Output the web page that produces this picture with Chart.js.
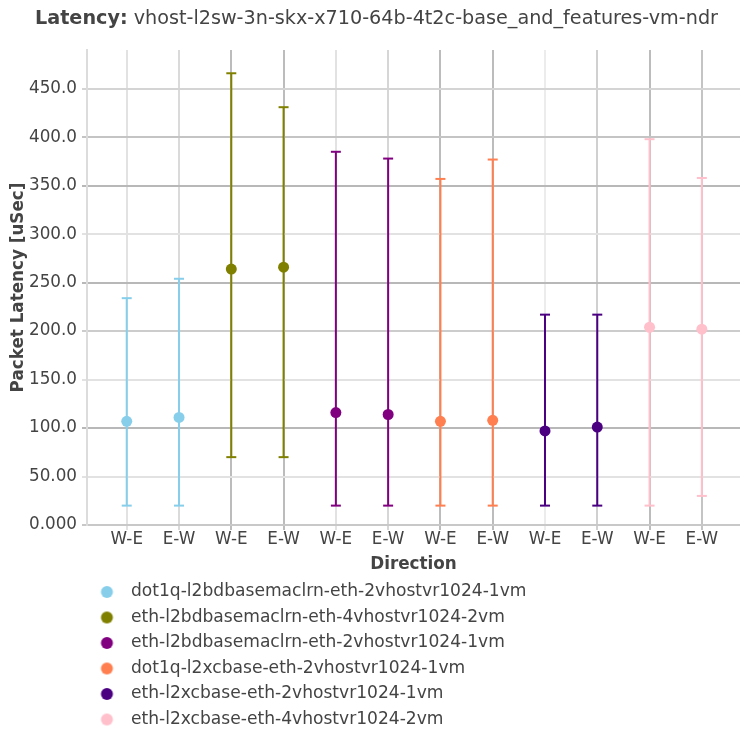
<!DOCTYPE html>
<html><head><meta charset="utf-8">
<script src="https://cdn.jsdelivr.net/npm/chart.js@4/dist/chart.umd.min.js"></script>
<style>
html,body{margin:0;padding:0;background:#fff;}
#wrap{position:relative;width:741px;height:729px;overflow:hidden;}
#title{position:absolute;left:0;top:6px;width:753px;text-align:center;font-family:"DejaVu Sans",sans-serif;font-size:19.2px;line-height:24px;color:#444;white-space:nowrap;}
canvas{position:absolute;left:0;top:0;}
</style></head>
<body><div id="wrap"><canvas id="c" width="741" height="729"></canvas><div id="title"><b>Latency:</b> vhost-l2sw-3n-skx-x710-64b-4t2c-base_and_features-vm-ndr</div></div>
<script>
const categories = ['W-E','E-W','W-E','E-W','W-E','E-W','W-E','E-W','W-E','E-W','W-E','E-W'];
const seriesNames = [
  'dot1q-l2bdbasemaclrn-eth-2vhostvr1024-1vm',
  'eth-l2bdbasemaclrn-eth-4vhostvr1024-2vm',
  'eth-l2bdbasemaclrn-eth-2vhostvr1024-1vm',
  'dot1q-l2xcbase-eth-2vhostvr1024-1vm',
  'eth-l2xcbase-eth-2vhostvr1024-1vm',
  'eth-l2xcbase-eth-4vhostvr1024-2vm'
];
const seriesColors = ['#87ceeb','#808000','#800080','#ff7f50','#4b0082','#ffc0cb'];
const avgWE = [107, 264, 116, 107, 97, 204];
const avgEW = [111, 266, 114, 108, 101, 202];
const maxWE = [234, 466, 385, 357, 217, 398];
const maxEW = [254, 431, 378, 377, 217, 358];
const minWE = [20, 70, 20, 20, 20, 20];
const minEW = [20, 70, 20, 20, 20, 30];
const yTickValues = [0, 50, 100, 150, 200, 250, 300, 350, 400, 450];
const yTickLabels = ['0.000','50.00','100.0','150.0','200.0','250.0','300.0','350.0','400.0','450.0'];

const FONT = '"DejaVu Sans", sans-serif';
const TXT = '#444';
const xGridColors = ['#e2e2e2','#dadada','#bcbcbc','#bcbcbc','#e2e2e2','#d6d6d6','#bcbcbc','#bcbcbc','#ececec','#d0d0d0','#bcbcbc','#c4c4c4'];
const yGridColors = ['#c8c8c8','#e2e2e2','#b8b8b8','#e2e2e2','#cccccc','#b8b8b8','#e2e2e2','#b8b8b8','#c4c4c4','#d4d4d4'];

function markerImage(color, offset) {
  const cv = document.createElement('canvas');
  cv.width = 27; cv.height = 14;
  const g = cv.getContext('2d');
  g.fillStyle = color;
  g.beginPath();
  g.arc(13.5 + offset, 7, 6, 0, Math.PI * 2);
  g.fill();
  return cv;
}

const datasets = [];
seriesNames.forEach((name, s) => {
  datasets.push({
    type: 'scatter', label: name,
    data: [{x: 2*s, y: avgWE[s]}, {x: 2*s+1, y: avgEW[s]}],
    backgroundColor: seriesColors[s], borderColor: seriesColors[s],
    pointRadius: 5.5, pointHoverRadius: 5.5, borderWidth: 0, order: 0
  });
});
seriesNames.forEach((name, s) => {
  datasets.push({
    type: 'line', label: name + ' err',
    data: [{x: 2*s, y: minWE[s]}, {x: 2*s, y: maxWE[s]}, {x: 2*s+0.5, y: null},
           {x: 2*s+1, y: minEW[s]}, {x: 2*s+1, y: maxEW[s]}],
    borderColor: seriesColors[s], borderWidth: 2, pointRadius: 0, spanGaps: false,
    fill: false, tension: 0, order: 2
  });
  datasets.push({
    type: 'scatter', label: name + ' caps',
    data: [{x: 2*s, y: minWE[s]}, {x: 2*s, y: maxWE[s]}, {x: 2*s+1, y: minEW[s]}, {x: 2*s+1, y: maxEW[s]}],
    pointStyle: 'line', pointRadius: 5, pointHoverRadius: 5,
    borderColor: seriesColors[s], borderWidth: 2, order: 1
  });
});

new Chart(document.getElementById('c'), {
  type: 'scatter',
  data: { datasets },
  options: {
    responsive: false, animation: false, devicePixelRatio: 1,
    layout: { autoPadding: false, padding: { top: 50, right: 1, left: 0, bottom: -9 } },
    plugins: {
      tooltip: { enabled: false },
      title: { display: false },
      legend: {
        position: 'bottom', align: 'start', fullSize: false,
        labels: {
          usePointStyle: true, pointStyleWidth: 27, boxHeight: 14,
          padding: 8.4, color: TXT,
          font: { family: FONT, size: 17.1 },
          generateLabels: (chart) => seriesNames.map((n, s) => ({
            text: n, fillStyle: seriesColors[s], strokeStyle: seriesColors[s], lineWidth: 0,
            pointStyle: markerImage(seriesColors[s], -2.0), datasetIndex: s, hidden: false, fontColor: TXT
          }))
        }
      }
    },
    scales: {
      x: {
        type: 'linear', min: -0.76, max: 11.73,
        afterBuildTicks: (sc) => { sc.ticks = categories.map((c, i) => ({ value: i })); },
        afterFit: (sc) => { sc.height = 50; },
        ticks: { color: TXT, font: { family: FONT, size: 16.8 }, padding: 0, autoSkip: false, maxRotation: 0,
                 callback: (v) => categories[v] },
        grid: { color: (c) => xGridColors[c.index] || '#e0e0e0', lineWidth: 2, tickLength: 5, drawTicks: true },
        border: { display: false },
        title: { display: true, text: 'Direction', color: TXT, font: { family: FONT, size: 16.8, weight: 'bold' }, padding: { top: 0, bottom: 0 } }
      },
      y: {
        type: 'linear', min: 0, max: 490,
        afterBuildTicks: (sc) => { sc.ticks = yTickValues.map(v => ({ value: v })); },
        afterFit: (sc) => { sc.width = 87; },
        ticks: { color: TXT, font: { family: FONT, size: 16.8 }, padding: 5,
                 callback: (v) => yTickLabels[yTickValues.indexOf(v)] },
        grid: { color: (c) => yGridColors[c.index] || '#e0e0e0', lineWidth: 2, tickLength: 5, drawTicks: true },
        border: { display: true, color: '#dcdcdc', width: 2 },
        title: { display: true, text: 'Packet Latency [uSec]', color: TXT, font: { family: FONT, size: 16.8, weight: 'bold' }, padding: { top: 9, bottom: 0 } }
      }
    }
  }
});
</script>
</body></html>
